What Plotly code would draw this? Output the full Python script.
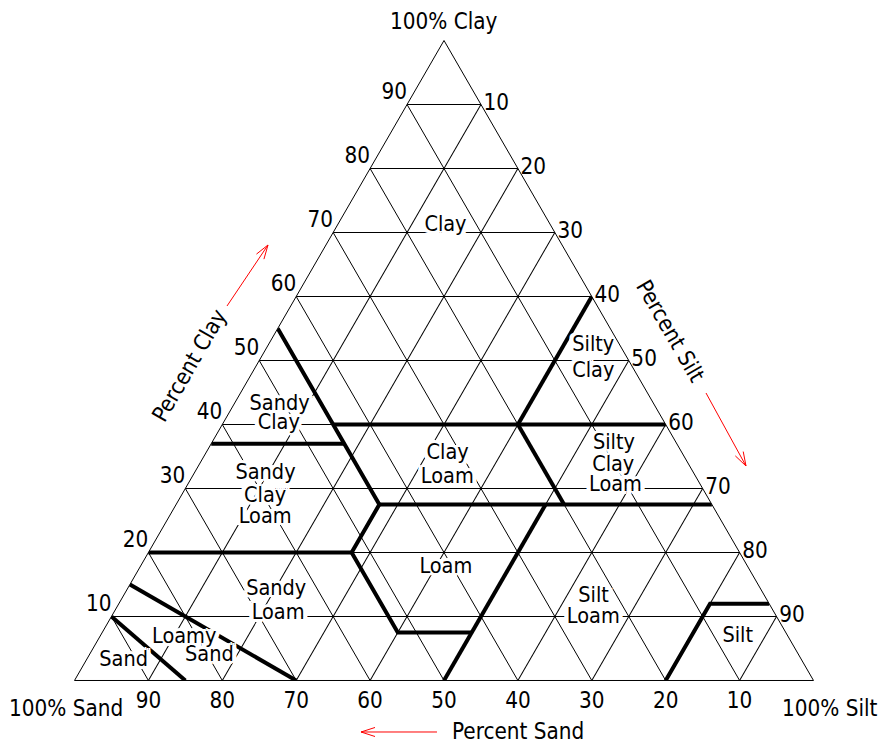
import plotly.graph_objects as go

# Tick positions shared by the three composition axes (percent)
TICK_VALUES = [10, 20, 30, 40, 50, 60, 70, 80, 90]
TICK_LABELS = ["10", "20", "30", "40", "50", "60", "70", "80", "90"]

# Texture class boundaries, each vertex given as (sand, silt, clay) percent
SAND_45_EDGE = [(45, 0, 55), (45, 27.5, 27.5), (52.5, 27.5, 20), (52.5, 40, 7.5), (42.5, 50, 7.5)]
SANDY_CLAY_BASE = [(63, 0, 37), (45, 18, 37)]
CLAY_40_LINE = [(45, 15, 40), (0, 60, 40)]
SILTY_CLAY_EDGE = [(20, 40, 40), (0, 40, 60)]
CLAY_27_LINE = [(45, 27.5, 27.5), (0, 72.5, 27.5)]
SILTY_CLAY_LOAM_EDGE = [(20, 40, 40), (20, 52.5, 27.5)]
SILT_50_LINE = [(50, 50, 0), (22.5, 50, 27.5)]
CLAY_20_LINE = [(80, 0, 20), (52.5, 27.5, 20)]
SANDY_LOAM_EDGE = [(85, 0, 15), (70, 30, 0)]
SAND_EDGE = [(90, 0, 10), (85, 15, 0)]
SILT_EDGE = [(20, 80, 0), (8, 80, 12), (0, 88, 12)]

BOUNDARIES = [SAND_45_EDGE, SANDY_CLAY_BASE, CLAY_40_LINE, SILTY_CLAY_EDGE, CLAY_27_LINE,
              SILTY_CLAY_LOAM_EDGE, SILT_50_LINE, CLAY_20_LINE, SANDY_LOAM_EDGE, SAND_EDGE,
              SILT_EDGE]

# Texture class names, one entry per written line, with the composition
# (clay, sand, silt percent) at the centre of that line
NAME_LINES = ["Clay", "Silty", "Clay", "Sandy", "Clay", "Clay", "Loam", "Silty", "Clay", "Loam",
              "Sandy", "Clay", "Loam", "Loam", "Sandy", "Loam", "Silt", "Loam", "Silt",
              "Loamy", "Sand", "Sand"]
LINE_CLAY = [71.0, 52.4, 48.2, 43.1, 40.1, 35.4, 31.7, 37.0, 33.6, 30.4,
             32.3, 28.8, 25.4, 17.7, 14.2, 10.5, 13.1, 9.8, 6.9, 6.7, 3.9, 3.1]
LINE_SAND = [14.3, 3.6, 5.7, 50.7, 52.3, 31.8, 33.7, 8.5, 10.3, 11.6,
             58.0, 59.8, 61.5, 40.9, 65.6, 67.2, 23.2, 24.9, 6.8, 81.8, 79.8, 91.8]
LINE_SILT = [14.7, 44.0, 46.1, 6.2, 7.6, 32.8, 34.6, 54.5, 56.1, 58.0,
             9.7, 11.4, 13.1, 41.4, 20.2, 22.3, 63.7, 65.3, 86.3, 11.5, 16.3, 5.1]

# Corner captions and axis direction captions
CORNER_TITLES = ["100% Clay", "100% Sand", "100% Silt"]
AXIS_CAPTIONS = ["Percent Clay", "Percent Silt", "Percent Sand"]

FONT = "DejaVu Sans Condensed, DejaVu Sans, sans-serif"
TEXT_SIZE = 22.3
NAME_SIZE = 21.5
W, H = 883, 744


def px(x, y):
    """Pixel position on the page -> paper coordinates."""
    return x / W, 1 - y / H


# white halo around the class names so the grid does not run through them
ring = [(3, 0), (-3, 0), (0, 3), (0, -3), (2, 2), (-2, -2), (2, -2), (-2, 2),
        (4, 0), (-4, 0), (4, 2), (-4, 2), (4, -2), (-4, -2)]
HALO = ", ".join(f"{dx}px {dy}px 0 white" for dx, dy in ring)

fig = go.Figure()

for line in BOUNDARIES:
    fig.add_trace(go.Scatterternary(
        b=[p[0] for p in line], c=[p[1] for p in line], a=[p[2] for p in line],
        mode="lines", line=dict(color="black", width=4), hoverinfo="skip",
    ))

# names are painted bottom line first, so an upper line's halo never hides
# the descenders of the line above it
fig.add_trace(go.Scatterternary(
    a=LINE_CLAY[::-1], b=LINE_SAND[::-1], c=LINE_SILT[::-1], mode="text",
    text=NAME_LINES[::-1], textposition="middle center",
    textfont=dict(family=FONT, size=NAME_SIZE, color="black", shadow=HALO),
    hoverinfo="skip",
))

# clay scale numbers sit just above the end of each clay grid line on the left edge
fig.add_trace(go.Scatterternary(
    a=TICK_VALUES, b=[100 - v for v in TICK_VALUES], c=[0] * len(TICK_VALUES),
    mode="text", text=TICK_LABELS, textposition="top left",
    textfont=dict(family=FONT, size=TEXT_SIZE, color="black"),
    hoverinfo="skip", cliponaxis=False,
))


def axis(labels=True):
    return dict(
        title=dict(text=""),
        min=0, tickmode="array", tickvals=TICK_VALUES, ticktext=TICK_LABELS,
        ticks="", showticklabels=labels,
        tickfont=dict(family=FONT, size=TEXT_SIZE, color="black"),
        showline=True, linecolor="black", linewidth=1,
        showgrid=True, gridcolor="black", gridwidth=1,
    )


# triangle: 739 px wide, apex at y=40.5, base at y=680.5
left, bottom = px(74.5, 680.5)
right, top = px(813.5, 40.5)

fig.update_layout(
    width=W, height=H, margin=dict(l=0, r=0, t=0, b=0),
    paper_bgcolor="white", showlegend=False,
    ternary=dict(
        sum=100, bgcolor="white",
        domain=dict(x=[left, right], y=[bottom, top]),
        aaxis=axis(labels=False), baxis=axis(), caxis=axis(),
    ),
)

text_items = [
    (CORNER_TITLES[0], (444, 21), 0),
    (CORNER_TITLES[1], (66, 708), 0),
    (CORNER_TITLES[2], (830, 708), 0),
    (AXIS_CAPTIONS[0], (189, 365), -60),
    (AXIS_CAPTIONS[1], (671, 331), 60),
    (AXIS_CAPTIONS[2], (518, 731), 0),
]
for text, (cx, cy), angle in text_items:
    ax_, ay_ = px(cx, cy)
    fig.add_annotation(x=ax_, y=ay_, xref="paper", yref="paper", text=text, showarrow=False,
                       textangle=angle, font=dict(family=FONT, size=TEXT_SIZE, color="black"),
                       xanchor="center", yanchor="middle")


def arrow_path(tail, tip, length=14, spread=4.5):
    tx, ty = tail
    hx, hy = tip
    dx, dy = hx - tx, hy - ty
    n = (dx * dx + dy * dy) ** 0.5
    ux, uy = dx / n, dy / n
    bx, by = hx - ux * length, hy - uy * length
    l1 = (bx - uy * spread, by + ux * spread)
    l2 = (bx + uy * spread, by - ux * spread)
    pts = [px(*tail), px(*tip), px(*l1), px(*l2)]
    f = lambda p: f"{p[0]:.5f},{p[1]:.5f}"
    return f"M{f(pts[0])} L{f(pts[1])} M{f(pts[2])} L{f(pts[1])} L{f(pts[3])}"


for tail, tip in [((227, 306), (268, 245)), ((706, 393), (746, 466)), ((437, 732), (361, 732))]:
    fig.add_shape(type="path", xref="paper", yref="paper", path=arrow_path(tail, tip),
                  line=dict(color="red", width=1))

fig.write_html("out.html")
